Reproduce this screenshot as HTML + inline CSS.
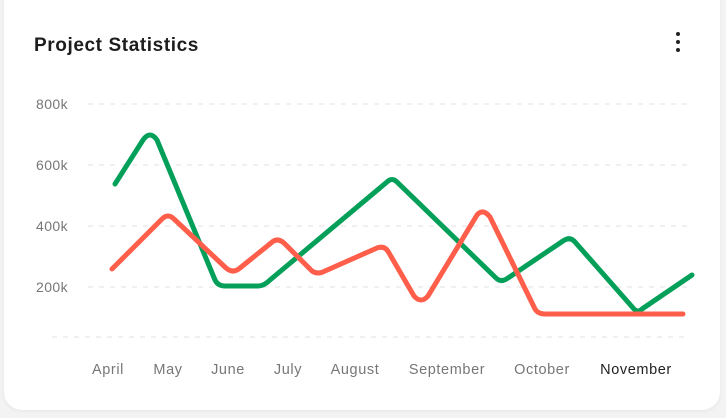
<!DOCTYPE html>
<html><head><style>
body{margin:0;width:726px;height:418px;background:#f3f3f3;font-family:"Liberation Sans",sans-serif;overflow:hidden}
.card{position:absolute;left:4px;top:-20px;width:716px;height:430px;background:#fff;border-radius:18px;box-shadow:0 1px 4px rgba(0,0,0,0.06)}
</style></head><body>
<div class="card"></div>
<svg width="726" height="418" style="position:absolute;left:0;top:0">
<text x="34" y="51" font-size="19" font-weight="bold" fill="#1d1d1d" letter-spacing="0.6">Project Statistics</text>
<circle cx="678" cy="34" r="2" fill="#222"/><circle cx="678" cy="42" r="2" fill="#222"/><circle cx="678" cy="50" r="2" fill="#222"/>
<g stroke="#e2e2e2" stroke-width="1" stroke-dasharray="5 6">
<line x1="88" y1="104" x2="690" y2="104"/>
<line x1="88" y1="165" x2="690" y2="165"/>
<line x1="88" y1="226" x2="690" y2="226"/>
<line x1="88" y1="287" x2="690" y2="287"/>
<line x1="52" y1="337" x2="690" y2="337"/>
</g>
<g font-size="14" fill="#777" text-anchor="end" letter-spacing="0.4">
<text x="68" y="109">800k</text><text x="68" y="170">600k</text><text x="68" y="231">400k</text><text x="68" y="292">200k</text>
</g>
<g font-size="14.5" fill="#777" text-anchor="middle" letter-spacing="0.6">
<text x="108" y="374">April</text><text x="168" y="374">May</text><text x="228" y="374">June</text><text x="288" y="374">July</text><text x="355" y="374">August</text><text x="447" y="374">September</text><text x="542" y="374">October</text><text x="636" y="374" fill="#222">November</text>
</g>
<path d="M115,184 L143,140 Q150,130 157,140 L215,280 Q218,286 225,286 L258,286 Q264,286 270,280 L387,182 Q392,177 397,182 L496,278 Q501,283 508,278 L563,241 Q570,236 575,242 L634,309 Q638,313 642,309 L692,275" fill="none" stroke="#04a05a" stroke-width="5" stroke-linecap="round" stroke-linejoin="round"/>
<path d="M112,269 L162,219 Q168,213 174,219 L226,268 Q233,274 240,268 L271,243 Q277,237 284,243 L312,271 Q318,275 325,271 L377,248 Q385,245 389,253 L414,296 Q421,304 428,296 L477,215 Q483,208 490,217 L535,309 Q538,314 545,314 L683,314" fill="none" stroke="#ff5e4b" stroke-width="5" stroke-linecap="round" stroke-linejoin="round"/>
</svg>
</body></html>
